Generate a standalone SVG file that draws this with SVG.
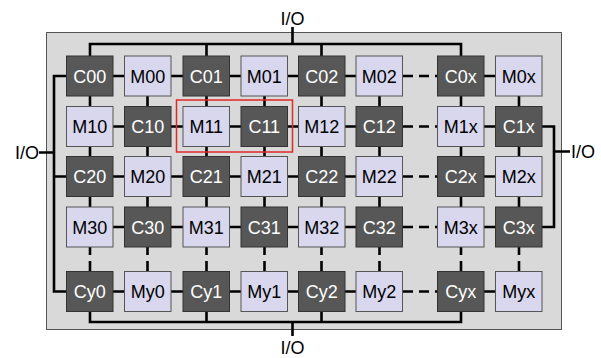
<svg xmlns="http://www.w3.org/2000/svg" width="601" height="358" viewBox="0 0 601 358">
<style>
text{font-family:"Liberation Sans",Arial,sans-serif;font-size:18px;text-anchor:middle}
.c rect{fill:#575757;stroke:#333;stroke-width:1}
.c text{fill:#fff}
.m rect{fill:#d8d7ee;stroke:#555;stroke-width:1}
.m text{fill:#000}
.w{stroke:#000;stroke-width:2.6;fill:none}
.d{stroke-dasharray:10,6}
.io{fill:#000}
</style>
<rect x="46.5" y="32.5" width="515" height="297" fill="#d9d9d9" stroke="#555" stroke-width="1"/>
<g id="connectors" class="w">
<path d="M90,56V44H461V56M206.5,44V56M321.5,44V56M292.5,27V44"/>
<path d="M90,311.5V322H461V311.5M206.5,322V311.5M321.5,322V311.5M292.5,322V336"/>
<path d="M66.5,76H54V291.5H66.5M54,176.5H66.5M39,152.5H54"/>
<path d="M542,126.5H554V227H542M554,151.5H570"/>
<path d="M113,76H124.5M171,76H183M229.5,76H241M287.5,76H298.5M345,76H356M484,76H495.5
M113,126.5H124.5M171,126.5H183M229.5,126.5H241M287.5,126.5H298.5M345,126.5H356M484,126.5H495.5
M113,176.5H124.5M171,176.5H183M229.5,176.5H241M287.5,176.5H298.5M345,176.5H356M484,176.5H495.5
M113,227H124.5M171,227H183M229.5,227H241M287.5,227H298.5M345,227H356M484,227H495.5
M113,291.5H124.5M171,291.5H183M229.5,291.5H241M287.5,291.5H298.5M345,291.5H356M484,291.5H495.5"/>
<path d="M90,96V106.5M147.5,96V106.5M206.5,96V106.5M264.5,96V106.5M321.5,96V106.5M379.5,96V106.5M461,96V106.5M519,96V106.5
M90,146.5V156.5M147.5,146.5V156.5M206.5,146.5V156.5M264.5,146.5V156.5M321.5,146.5V156.5M379.5,146.5V156.5M461,146.5V156.5M519,146.5V156.5
M90,196.5V207M147.5,196.5V207M206.5,196.5V207M264.5,196.5V207M321.5,196.5V207M379.5,196.5V207M461,196.5V207M519,196.5V207"/>
<path class="d" d="M403,76H437.5M403,126.5H437.5M403,176.5H437.5M403,227H437.5M403,291.5H437.5"/>
<path class="d" d="M90,245V271.5M147.5,245V271.5M206.5,245V271.5M264.5,245V271.5M321.5,245V271.5M379.5,245V271.5M461,245V271.5M519,245V271.5"/>
</g>
<g id="C00" class="c"><rect x="66.5" y="56" width="46.5" height="40"/><text x="89.75" y="82.5">C00</text></g>
<g id="M00" class="m"><rect x="124.5" y="56" width="46.5" height="40"/><text x="147.75" y="82.5">M00</text></g>
<g id="C01" class="c"><rect x="183" y="56" width="46.5" height="40"/><text x="206.25" y="82.5">C01</text></g>
<g id="M01" class="m"><rect x="241" y="56" width="46.5" height="40"/><text x="264.25" y="82.5">M01</text></g>
<g id="C02" class="c"><rect x="298.5" y="56" width="46.5" height="40"/><text x="321.75" y="82.5">C02</text></g>
<g id="M02" class="m"><rect x="356" y="56" width="46.5" height="40"/><text x="379.25" y="82.5">M02</text></g>
<g id="C0x" class="c"><rect x="437.5" y="56" width="46.5" height="40"/><text x="460.75" y="82.5">C0x</text></g>
<g id="M0x" class="m"><rect x="495.5" y="56" width="46.5" height="40"/><text x="518.75" y="82.5">M0x</text></g>

<g id="M10" class="m"><rect x="66.5" y="106.5" width="46.5" height="40"/><text x="89.75" y="133">M10</text></g>
<g id="C10" class="c"><rect x="124.5" y="106.5" width="46.5" height="40"/><text x="147.75" y="133">C10</text></g>
<g id="M11" class="m"><rect x="183" y="106.5" width="46.5" height="40"/><text x="206.25" y="133">M11</text></g>
<g id="C11" class="c"><rect x="241" y="106.5" width="46.5" height="40"/><text x="264.25" y="133">C11</text></g>
<g id="M12" class="m"><rect x="298.5" y="106.5" width="46.5" height="40"/><text x="321.75" y="133">M12</text></g>
<g id="C12" class="c"><rect x="356" y="106.5" width="46.5" height="40"/><text x="379.25" y="133">C12</text></g>
<g id="M1x" class="m"><rect x="437.5" y="106.5" width="46.5" height="40"/><text x="460.75" y="133">M1x</text></g>
<g id="C1x" class="c"><rect x="495.5" y="106.5" width="46.5" height="40"/><text x="518.75" y="133">C1x</text></g>

<g id="C20" class="c"><rect x="66.5" y="156.5" width="46.5" height="40"/><text x="89.75" y="183">C20</text></g>
<g id="M20" class="m"><rect x="124.5" y="156.5" width="46.5" height="40"/><text x="147.75" y="183">M20</text></g>
<g id="C21" class="c"><rect x="183" y="156.5" width="46.5" height="40"/><text x="206.25" y="183">C21</text></g>
<g id="M21" class="m"><rect x="241" y="156.5" width="46.5" height="40"/><text x="264.25" y="183">M21</text></g>
<g id="C22" class="c"><rect x="298.5" y="156.5" width="46.5" height="40"/><text x="321.75" y="183">C22</text></g>
<g id="M22" class="m"><rect x="356" y="156.5" width="46.5" height="40"/><text x="379.25" y="183">M22</text></g>
<g id="C2x" class="c"><rect x="437.5" y="156.5" width="46.5" height="40"/><text x="460.75" y="183">C2x</text></g>
<g id="M2x" class="m"><rect x="495.5" y="156.5" width="46.5" height="40"/><text x="518.75" y="183">M2x</text></g>

<g id="M30" class="m"><rect x="66.5" y="207" width="46.5" height="40"/><text x="89.75" y="233.5">M30</text></g>
<g id="C30" class="c"><rect x="124.5" y="207" width="46.5" height="40"/><text x="147.75" y="233.5">C30</text></g>
<g id="M31" class="m"><rect x="183" y="207" width="46.5" height="40"/><text x="206.25" y="233.5">M31</text></g>
<g id="C31" class="c"><rect x="241" y="207" width="46.5" height="40"/><text x="264.25" y="233.5">C31</text></g>
<g id="M32" class="m"><rect x="298.5" y="207" width="46.5" height="40"/><text x="321.75" y="233.5">M32</text></g>
<g id="C32" class="c"><rect x="356" y="207" width="46.5" height="40"/><text x="379.25" y="233.5">C32</text></g>
<g id="M3x" class="m"><rect x="437.5" y="207" width="46.5" height="40"/><text x="460.75" y="233.5">M3x</text></g>
<g id="C3x" class="c"><rect x="495.5" y="207" width="46.5" height="40"/><text x="518.75" y="233.5">C3x</text></g>

<g id="Cy0" class="c"><rect x="66.5" y="271.5" width="46.5" height="40"/><text x="89.75" y="298">Cy0</text></g>
<g id="My0" class="m"><rect x="124.5" y="271.5" width="46.5" height="40"/><text x="147.75" y="298">My0</text></g>
<g id="Cy1" class="c"><rect x="183" y="271.5" width="46.5" height="40"/><text x="206.25" y="298">Cy1</text></g>
<g id="My1" class="m"><rect x="241" y="271.5" width="46.5" height="40"/><text x="264.25" y="298">My1</text></g>
<g id="Cy2" class="c"><rect x="298.5" y="271.5" width="46.5" height="40"/><text x="321.75" y="298">Cy2</text></g>
<g id="My2" class="m"><rect x="356" y="271.5" width="46.5" height="40"/><text x="379.25" y="298">My2</text></g>
<g id="Cyx" class="c"><rect x="437.5" y="271.5" width="46.5" height="40"/><text x="460.75" y="298">Cyx</text></g>
<g id="Myx" class="m"><rect x="495.5" y="271.5" width="46.5" height="40"/><text x="518.75" y="298">Myx</text></g>

<rect id="highlight" x="176.5" y="100" width="116" height="52" fill="none" stroke="#e0282a" stroke-width="1.5"/>

<g id="io-top"><text class="io" x="292.5" y="25">I/O</text></g>
<g id="io-bottom"><text class="io" x="292.5" y="353.5">I/O</text></g>
<g id="io-left"><text class="io" x="27" y="159">I/O</text></g>
<g id="io-right"><text class="io" x="583" y="158">I/O</text></g>
</svg>
